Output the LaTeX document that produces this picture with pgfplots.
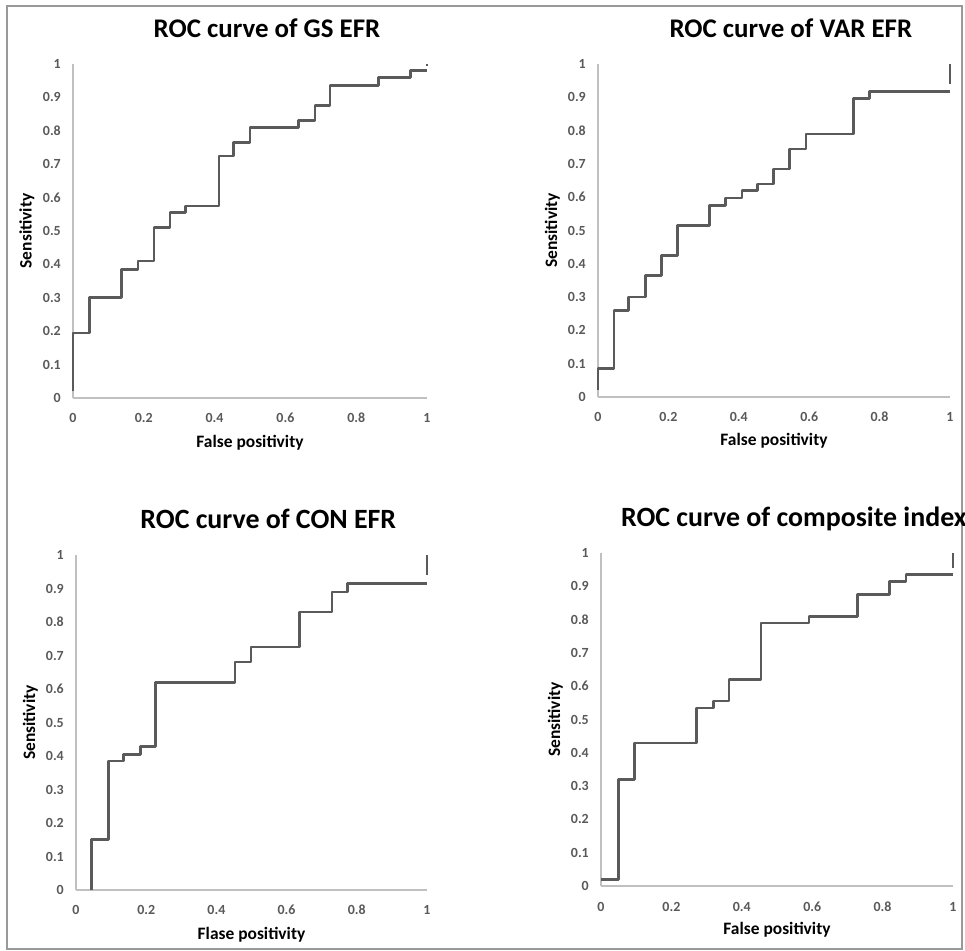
\documentclass[border=0pt]{standalone}
\usepackage{pgfplots}
\pgfplotsset{compat=1.18}
\usepackage{fontspec}
\setmainfont{Carlito}
\definecolor{curve}{HTML}{5A5A5A}
\definecolor{axisgray}{HTML}{C0C0C0}
\definecolor{ticktext}{HTML}{595959}

\pgfplotsset{
  roc/.style={
    scale only axis,
    anchor=south west,
    xmin=0, xmax=1, ymin=0, ymax=1,
    axis lines*=left,
    axis line style={axisgray, line width=1.3bp},
    major tick length=0pt,
    xtick={0,0.2,0.4,0.6,0.8,1},
    xticklabels={{0},{0.2},{0.4},{0.6},{0.8},{1}},
    ytick={0,0.1,0.2,0.3,0.4,0.5,0.6,0.7,0.8,0.9,1},
    yticklabels={{0},{0.1},{0.2},{0.3},{0.4},{0.5},{0.6},{0.7},{0.8},{0.9},{1}},
    tick label style={font=\fontsize{14}{16}\selectfont\bfseries, text=ticktext, inner sep=0pt},
    xticklabel style={anchor=base, yshift=-25bp},
    yticklabel style={anchor=east, xshift=-12bp},
    title style={at={(axis description cs:0.548,1.062)}, anchor=base, font=\fontsize{27}{31}\selectfont\bfseries},
    xlabel style={at={(axis description cs:0.5,-0.147)}, anchor=base, font=\fontsize{17.5}{20}\selectfont\bfseries},
    ylabel style={at={(axis description cs:-0.13,0.5)}, anchor=center, font=\fontsize{17.5}{20}\selectfont\bfseries},
    ylabel={Sensitivity},
    clip=false,
  },
  bottomrow/.style={title style={font=\fontsize{28}{32}\selectfont\bfseries}},
  rocline/.style={curve, line width=2.6bp, line join=round},
}

\begin{document}
\begin{tikzpicture}
\useasboundingbox (0bp,0bp) rectangle (965bp,951bp);
\draw[gray!80, line width=1.2bp] (7bp,2bp) rectangle (962bp,945bp);

% GS EFR
\begin{axis}[roc, at={(73bp,553bp)}, width=354bp, height=334bp,
  title={ROC curve of GS EFR}, xlabel={False positivity}]
\addplot[rocline] coordinates {
  (0,0.02)(0,0.195)(0.047,0.195)(0.047,0.30)(0.137,0.30)(0.137,0.385)
  (0.184,0.385)(0.184,0.41)(0.229,0.41)(0.229,0.51)(0.274,0.51)(0.274,0.555)
  (0.318,0.555)(0.318,0.575)(0.412,0.575)(0.412,0.725)(0.453,0.725)(0.453,0.765)
  (0.5,0.765)(0.5,0.81)(0.637,0.81)(0.637,0.83)(0.684,0.83)(0.684,0.875)
  (0.726,0.875)(0.726,0.935)(0.863,0.935)(0.863,0.96)(0.953,0.96)(0.953,0.98)(1,0.98)
};
\addplot[rocline, line width=1.2bp] coordinates {(1,0.995)(1,1.0)};
\end{axis}

% VAR EFR
\begin{axis}[roc, at={(598bp,554bp)}, width=352bp, height=333bp,
  title={ROC curve of VAR EFR}, xlabel={False positivity}]
\addplot[rocline] coordinates {
  (0,0.02)(0,0.085)(0.045,0.085)(0.045,0.26)(0.087,0.26)(0.087,0.30)
  (0.135,0.30)(0.135,0.365)(0.18,0.365)(0.18,0.425)(0.225,0.425)(0.225,0.515)
  (0.317,0.515)(0.317,0.575)(0.363,0.575)(0.363,0.598)(0.409,0.598)(0.409,0.62)
  (0.453,0.62)(0.453,0.64)(0.498,0.64)(0.498,0.685)(0.544,0.685)(0.544,0.745)
  (0.591,0.745)(0.591,0.79)(0.726,0.79)(0.726,0.897)(0.772,0.897)(0.772,0.918)(1,0.918)
};
\addplot[rocline] coordinates {(1,0.94)(1,1.0)};
\end{axis}

% CON EFR
\begin{axis}[roc, bottomrow, at={(76bp,61bp)}, width=351bp, height=335bp,
  title={ROC curve of CON EFR}, xlabel={Flase positivity}]
\addplot[rocline] coordinates {
  (0.045,0)(0.045,0.15)(0.092,0.15)(0.092,0.385)(0.135,0.385)(0.135,0.405)
  (0.183,0.405)(0.183,0.428)(0.227,0.428)(0.227,0.62)(0.453,0.62)(0.453,0.68)
  (0.498,0.68)(0.498,0.725)(0.636,0.725)(0.636,0.83)(0.729,0.83)(0.729,0.89)
  (0.774,0.89)(0.774,0.915)(1,0.915)
};
\addplot[rocline] coordinates {(1,0.94)(1,1.0)};
\end{axis}

% composite index
\begin{axis}[roc, bottomrow, at={(601bp,65bp)}, width=352bp, height=333bp,
  title={ROC curve of composite index}, xlabel={False positivity}]
\addplot[rocline] coordinates {
  (0,0.02)(0.049,0.02)(0.049,0.32)(0.095,0.32)(0.095,0.43)(0.272,0.43)
  (0.272,0.535)(0.319,0.535)(0.319,0.555)(0.364,0.555)(0.364,0.62)(0.454,0.62)
  (0.454,0.79)(0.591,0.79)(0.591,0.81)(0.728,0.81)(0.728,0.875)(0.82,0.875)
  (0.82,0.915)(0.866,0.915)(0.866,0.935)(1,0.935)
};
\addplot[rocline] coordinates {(1,0.955)(1,1.0)};
\end{axis}
\end{tikzpicture}
\end{document}
